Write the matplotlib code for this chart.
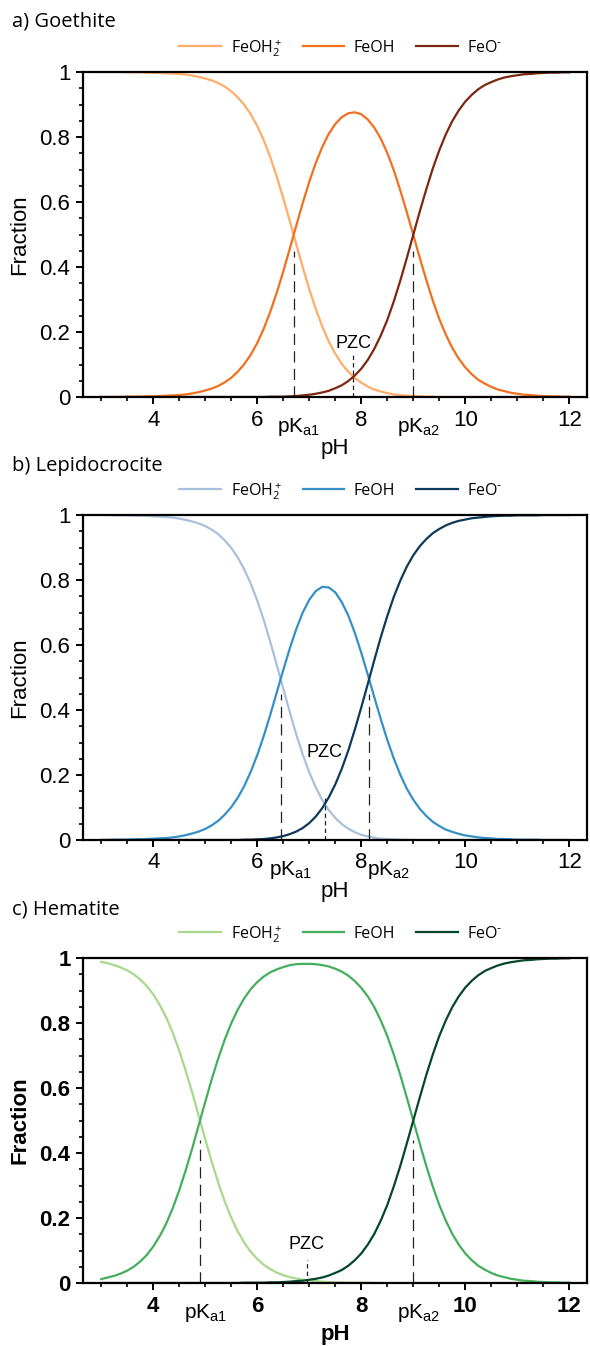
import matplotlib
matplotlib.use("Agg")
import matplotlib.pyplot as plt
import matplotlib.transforms as mtransforms
from matplotlib.ticker import MultipleLocator

plt.rcParams['font.family'] = ['Liberation Sans', 'DejaVu Sans']
plt.rcParams['mathtext.default'] = 'regular'

# pH grid the fractions were read at (one row per pH unit)
ph = [3.0, 3.125, 3.25, 3.375, 3.5, 3.625, 3.75, 3.875,
      4.0, 4.125, 4.25, 4.375, 4.5, 4.625, 4.75, 4.875,
      5.0, 5.125, 5.25, 5.375, 5.5, 5.625, 5.75, 5.875,
      6.0, 6.125, 6.25, 6.375, 6.5, 6.625, 6.75, 6.875,
      7.0, 7.125, 7.25, 7.375, 7.5, 7.625, 7.75, 7.875,
      8.0, 8.125, 8.25, 8.375, 8.5, 8.625, 8.75, 8.875,
      9.0, 9.125, 9.25, 9.375, 9.5, 9.625, 9.75, 9.875,
      10.0, 10.125, 10.25, 10.375, 10.5, 10.625, 10.75, 10.875,
      11.0, 11.125, 11.25, 11.375, 11.5, 11.625, 11.75, 11.875,
      12.0]

species = ['FeOH$_2^+$', 'FeOH', 'FeO$^{\\text{-}}$']

# a) goethite
goethite_feoh2 = [1.000, 1.000, 1.000, 1.000, 0.999, 0.999, 0.999, 0.998,
                  0.998, 0.997, 0.996, 0.995, 0.994, 0.992, 0.989, 0.985,
                  0.980, 0.974, 0.966, 0.955, 0.941, 0.922, 0.899, 0.870,
                  0.834, 0.790, 0.738, 0.678, 0.612, 0.542, 0.470, 0.399,
                  0.332, 0.271, 0.217, 0.171, 0.133, 0.102, 0.078, 0.059,
                  0.044, 0.032, 0.023, 0.017, 0.012, 0.008, 0.006, 0.004,
                  0.003, 0.002, 0.001, 0.001, 0.000, 0.000, 0.000, 0.000,
                  0.000, 0.000, 0.000, 0.000, 0.000, 0.000, 0.000, 0.000,
                  0.000, 0.000, 0.000, 0.000, 0.000, 0.000, 0.000, 0.000,
                  0.000]
goethite_feoh = [0.000, 0.000, 0.000, 0.000, 0.001, 0.001, 0.001, 0.002,
                 0.002, 0.003, 0.004, 0.005, 0.006, 0.008, 0.011, 0.015,
                 0.020, 0.026, 0.034, 0.045, 0.059, 0.078, 0.101, 0.130,
                 0.166, 0.210, 0.262, 0.321, 0.386, 0.456, 0.527, 0.597,
                 0.662, 0.720, 0.769, 0.810, 0.840, 0.861, 0.873, 0.876,
                 0.870, 0.854, 0.829, 0.795, 0.751, 0.698, 0.636, 0.569,
                 0.499, 0.428, 0.360, 0.297, 0.240, 0.192, 0.151, 0.118,
                 0.091, 0.070, 0.053, 0.041, 0.031, 0.023, 0.018, 0.013,
                 0.010, 0.007, 0.006, 0.004, 0.003, 0.002, 0.002, 0.001,
                 0.001]
goethite_feo = [0.000, 0.000, 0.000, 0.000, 0.000, 0.000, 0.000, 0.000,
                0.000, 0.000, 0.000, 0.000, 0.000, 0.000, 0.000, 0.000,
                0.000, 0.000, 0.000, 0.000, 0.000, 0.000, 0.000, 0.000,
                0.000, 0.000, 0.001, 0.001, 0.001, 0.002, 0.003, 0.005,
                0.007, 0.010, 0.014, 0.019, 0.027, 0.036, 0.049, 0.066,
                0.087, 0.114, 0.148, 0.189, 0.237, 0.294, 0.358, 0.427,
                0.499, 0.571, 0.639, 0.703, 0.759, 0.808, 0.849, 0.882,
                0.909, 0.930, 0.947, 0.960, 0.969, 0.977, 0.983, 0.987,
                0.990, 0.993, 0.994, 0.996, 0.997, 0.998, 0.998, 0.999,
                0.999]

# b) lepidocrocite
lepido_feoh2 = [1.000, 1.000, 0.999, 0.999, 0.999, 0.998, 0.998, 0.997,
                0.996, 0.995, 0.994, 0.992, 0.989, 0.985, 0.980, 0.974,
                0.966, 0.955, 0.941, 0.922, 0.899, 0.869, 0.833, 0.789,
                0.737, 0.677, 0.610, 0.539, 0.466, 0.394, 0.325, 0.263,
                0.208, 0.162, 0.123, 0.092, 0.068, 0.049, 0.035, 0.024,
                0.016, 0.011, 0.007, 0.004, 0.003, 0.002, 0.001, 0.001,
                0.000, 0.000, 0.000, 0.000, 0.000, 0.000, 0.000, 0.000,
                0.000, 0.000, 0.000, 0.000, 0.000, 0.000, 0.000, 0.000,
                0.000, 0.000, 0.000, 0.000, 0.000, 0.000, 0.000, 0.000,
                0.000]
lepido_feoh = [0.000, 0.000, 0.001, 0.001, 0.001, 0.002, 0.002, 0.003,
               0.004, 0.005, 0.006, 0.008, 0.011, 0.015, 0.020, 0.026,
               0.034, 0.045, 0.059, 0.078, 0.101, 0.130, 0.166, 0.210,
               0.261, 0.320, 0.385, 0.454, 0.523, 0.589, 0.649, 0.700,
               0.739, 0.766, 0.779, 0.777, 0.762, 0.732, 0.691, 0.638,
               0.576, 0.509, 0.440, 0.372, 0.308, 0.251, 0.201, 0.158,
               0.124, 0.096, 0.074, 0.056, 0.043, 0.032, 0.025, 0.019,
               0.014, 0.011, 0.008, 0.006, 0.005, 0.003, 0.003, 0.002,
               0.001, 0.001, 0.001, 0.001, 0.000, 0.000, 0.000, 0.000,
               0.000]
lepido_feo = [0.000, 0.000, 0.000, 0.000, 0.000, 0.000, 0.000, 0.000,
              0.000, 0.000, 0.000, 0.000, 0.000, 0.000, 0.000, 0.000,
              0.000, 0.000, 0.000, 0.000, 0.000, 0.000, 0.001, 0.001,
              0.002, 0.003, 0.005, 0.008, 0.012, 0.018, 0.026, 0.037,
              0.052, 0.072, 0.098, 0.131, 0.171, 0.219, 0.275, 0.339,
              0.408, 0.480, 0.553, 0.624, 0.689, 0.748, 0.798, 0.841,
              0.876, 0.904, 0.926, 0.944, 0.957, 0.968, 0.976, 0.982,
              0.986, 0.990, 0.992, 0.994, 0.996, 0.997, 0.998, 0.998,
              0.999, 0.999, 0.999, 0.999, 1.000, 1.000, 1.000, 1.000,
              1.000]

# c) hematite
hem_feoh2 = [0.988, 0.984, 0.978, 0.971, 0.962, 0.950, 0.934, 0.914,
             0.888, 0.856, 0.817, 0.770, 0.715, 0.653, 0.586, 0.514,
             0.443, 0.373, 0.309, 0.251, 0.201, 0.159, 0.124, 0.096,
             0.074, 0.056, 0.043, 0.032, 0.024, 0.018, 0.014, 0.010,
             0.008, 0.006, 0.004, 0.003, 0.002, 0.002, 0.001, 0.001,
             0.001, 0.001, 0.000, 0.000, 0.000, 0.000, 0.000, 0.000,
             0.000, 0.000, 0.000, 0.000, 0.000, 0.000, 0.000, 0.000,
             0.000, 0.000, 0.000, 0.000, 0.000, 0.000, 0.000, 0.000,
             0.000, 0.000, 0.000, 0.000, 0.000, 0.000, 0.000, 0.000,
             0.000]
hem_feoh = [0.012, 0.017, 0.022, 0.029, 0.038, 0.050, 0.066, 0.086,
            0.112, 0.144, 0.183, 0.230, 0.285, 0.347, 0.414, 0.486,
            0.557, 0.627, 0.691, 0.749, 0.799, 0.841, 0.876, 0.904,
            0.926, 0.943, 0.956, 0.965, 0.972, 0.978, 0.981, 0.982,
            0.982, 0.981, 0.978, 0.974, 0.967, 0.958, 0.946, 0.929,
            0.908, 0.882, 0.849, 0.808, 0.760, 0.703, 0.640, 0.571,
            0.500, 0.429, 0.360, 0.297, 0.240, 0.192, 0.151, 0.118,
            0.091, 0.070, 0.053, 0.041, 0.031, 0.023, 0.018, 0.013,
            0.010, 0.007, 0.006, 0.004, 0.003, 0.002, 0.002, 0.001,
            0.001]
hem_feo = [0.000, 0.000, 0.000, 0.000, 0.000, 0.000, 0.000, 0.000,
           0.000, 0.000, 0.000, 0.000, 0.000, 0.000, 0.000, 0.000,
           0.000, 0.000, 0.000, 0.000, 0.000, 0.000, 0.001, 0.001,
           0.001, 0.001, 0.002, 0.002, 0.003, 0.004, 0.006, 0.007,
           0.010, 0.013, 0.017, 0.023, 0.031, 0.040, 0.053, 0.070,
           0.091, 0.118, 0.151, 0.192, 0.240, 0.297, 0.360, 0.429,
           0.500, 0.571, 0.640, 0.703, 0.760, 0.808, 0.849, 0.882,
           0.909, 0.930, 0.947, 0.960, 0.969, 0.977, 0.983, 0.987,
           0.990, 0.993, 0.994, 0.996, 0.997, 0.998, 0.998, 0.999,
           0.999]

titles = ['a) Goethite', 'b) Lepidocrocite', 'c) Hematite']
pka1 = [6.70, 6.45, 4.90]
pka2 = [9.00, 8.15, 9.00]
pzc = [7.85, 7.30, 6.95]

x_ticks = [4, 6, 8, 10, 12]
y_ticks = [0, 0.2, 0.4, 0.6, 0.8, 1]
y_tick_labels = ['0', '0.2', '0.4', '0.6', '0.8', '1']

panel_data = [
    [goethite_feoh2, goethite_feoh, goethite_feo],
    [lepido_feoh2, lepido_feoh, lepido_feo],
    [hem_feoh2, hem_feoh, hem_feo],
]
panel_colors = [
    ['#fdae6b', '#f0701e', '#7a2812'],
    ['#a9c0dd', '#3590c5', '#0d3a5c'],
    ['#a8d88c', '#45ae5c', '#06462a'],
]

# layout (pixels from top of the 590 x 1346 figure)
W, H = 590, 1346
ax_left, ax_right = 83, 587
panel_top = [72, 515, 958]
panel_bottom = [397, 840, 1283]
title_y = [22, 466, 909]
bold_labels = [False, False, True]
pka_top = [0.45, 0.45, 0.44]
pzc_top = [0.135, 0.133, 0.072]
pzc_text_y = [0.166, 0.27, 0.118]
pka1_shift = [0.1, 0.2, 0.1]
pka2_shift = [0.1, 0.38, 0.1]

fig = plt.figure(figsize=(W / 100, H / 100), dpi=100)

for i in range(3):
    ax = fig.add_axes([ax_left / W, 1 - panel_bottom[i] / H,
                       (ax_right - ax_left) / W,
                       (panel_bottom[i] - panel_top[i]) / H])
    weight = 'bold' if bold_labels[i] else 'normal'

    handles = []
    for values, color, name in zip(panel_data[i], panel_colors[i], species):
        line, = ax.plot(ph, values, color=color, lw=1.6, label=name)
        handles.append(line)

    # guide lines at pKa1, pKa2 and the PZC
    ax.plot([pka1[i], pka1[i]], [0, pka_top[i]], color='#222222', lw=0.9,
            dashes=(9, 5))
    ax.plot([pka2[i], pka2[i]], [0, pka_top[i]], color='#222222', lw=0.9,
            dashes=(9, 5))
    ax.plot([pzc[i], pzc[i]], [0, pzc_top[i]], color='#222222', lw=0.9,
            dashes=(3.5, 2.5))
    ax.text(pzc[i], pzc_text_y[i], 'PZC', ha='center', va='center',
            fontsize=13)

    trans = mtransforms.blended_transform_factory(ax.transData, ax.transAxes)
    ax.text(pka1[i] + pka1_shift[i], -0.107, 'pK$_{a1}$', transform=trans,
            ha='center', va='baseline', fontsize=15)
    ax.text(pka2[i] + pka2_shift[i], -0.107, 'pK$_{a2}$', transform=trans,
            ha='center', va='baseline', fontsize=15)

    ax.set_xlim(2.65, 12.34)
    ax.set_ylim(0, 1)
    ax.set_xticks(x_ticks, [str(t) for t in x_ticks], fontsize=16,
                  fontweight=weight)
    ax.set_yticks(y_ticks, y_tick_labels, fontsize=16, fontweight=weight)
    ax.xaxis.set_minor_locator(MultipleLocator(0.5))
    ax.yaxis.set_minor_locator(MultipleLocator(0.05))
    ax.tick_params(which='major', direction='out', length=5, width=1.4,
                   pad=4)
    ax.tick_params(which='minor', direction='out', length=3, width=1.2)
    for side in ['left', 'right', 'top', 'bottom']:
        ax.spines[side].set_linewidth(1.6)

    ax.set_xlabel('pH', fontsize=16, fontweight=weight)
    ax.xaxis.set_label_coords(0.5, -0.125)
    ax.set_ylabel('Fraction', fontsize=16, fontweight=weight)
    ax.yaxis.set_label_coords(-0.105, 0.5)

    ax.legend(handles=handles, loc='center', ncol=3, frameon=False,
              bbox_to_anchor=(0.512, 1.075), handlelength=2.6,
              handletextpad=0.6, columnspacing=1.3, borderaxespad=0,
              prop={'family': ['Open Sans', 'DejaVu Sans'], 'size': 11.5})

    fig.text(12 / W, 1 - title_y[i] / H, titles[i], ha='left', va='center',
             fontsize=14.5, family=['Open Sans', 'DejaVu Sans'])

fig.savefig('out.png', dpi=100)
